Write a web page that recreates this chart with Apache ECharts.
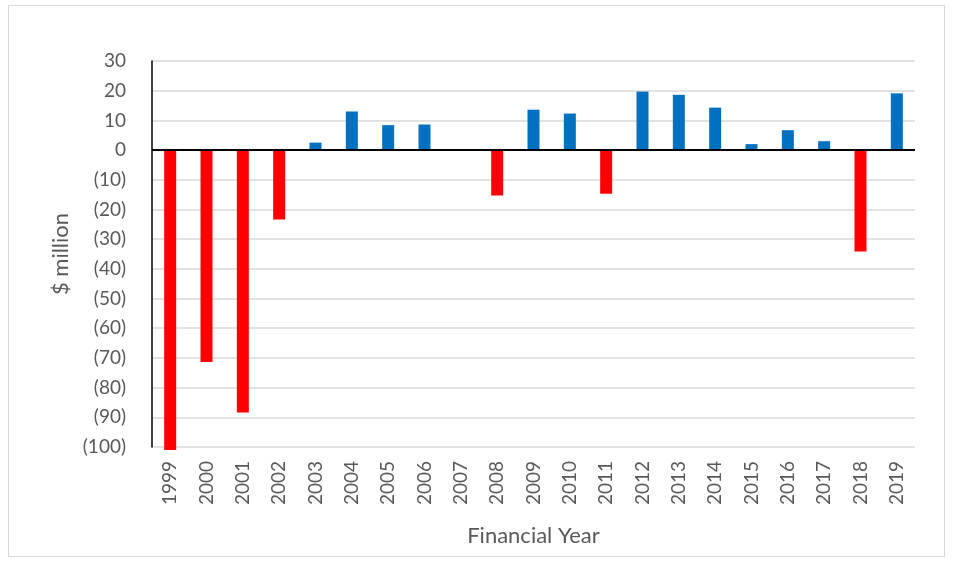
<!DOCTYPE html>
<html>
<head>
<meta charset="utf-8">
<script src="https://cdn.jsdelivr.net/npm/echarts@6/dist/echarts.min.js"></script>
<style>
html,body{margin:0;padding:0;background:#fff;}
#frame{position:absolute;left:8px;top:5px;width:937px;height:552px;border:1px solid #d9d9d9;box-sizing:border-box;}
#chart{position:absolute;left:0;top:0;width:954px;height:564px;}
</style>
</head>
<body>
<div id="frame"></div>
<div id="chart"></div>
<script>
const years = ['1999','2000','2001','2002','2003','2004','2005','2006','2007','2008','2009','2010','2011','2012','2013','2014','2015','2016','2017','2018','2019'];
const values = [-101, -71.4, -88.4, -23.4, 2.5, 13.0, 8.4, 8.6, 0, -15.3, 13.6, 12.3, -14.7, 19.7, 18.6, 14.3, 2.0, 6.7, 3.0, -34.2, 19.1];
const yTicks = {min: -100, max: 30, interval: 10};
const posColor = '#0070C0';
const negColor = '#FF0000';
const font = 'Lato, "Open Sans", sans-serif';

const chart = echarts.init(document.getElementById('chart'));
chart.setOption({
  animation: false,
  grid: {left: 152, right: 39, top: 61, bottom: 117},
  xAxis: {
    type: 'category',
    data: years,
    name: 'Financial Year',
    nameLocation: 'middle',
    nameGap: 78,
    nameTextStyle: {color: '#595959', fontSize: 22, fontFamily: font},
    axisLine: {show: false, onZero: false},
    axisTick: {show: false},
    axisLabel: {rotate: 90, color: '#595959', fontSize: 19, fontFamily: font, margin: 14, interval: 0}
  },
  yAxis: {
    type: 'value',
    min: yTicks.min, max: yTicks.max, interval: yTicks.interval,
    name: '$ million',
    nameLocation: 'middle',
    nameGap: 80,
    nameTextStyle: {color: '#595959', fontSize: 22, fontFamily: font},
    axisLine: {show: true, lineStyle: {color: '#000', width: 1.5}},
    axisTick: {show: false},
    splitLine: {lineStyle: {color: '#d9d9d9', width: 1.5}},
    axisLabel: {
      color: '#595959', fontSize: 19, fontFamily: font, margin: 26,
      formatter: v => v < 0 ? '(' + Math.abs(v) + ')' : String(v)
    }
  },
  series: [{
    type: 'bar',
    barWidth: '33%',
    clip: false,
    data: values.map(v => ({value: v, itemStyle: {color: v < 0 ? negColor : posColor}})),
    markLine: {
      silent: true, symbol: 'none', label: {show: false},
      lineStyle: {color: '#000', width: 2, type: 'solid'},
      data: [{yAxis: 0}]
    }
  }]
});
</script>
</body>
</html>
